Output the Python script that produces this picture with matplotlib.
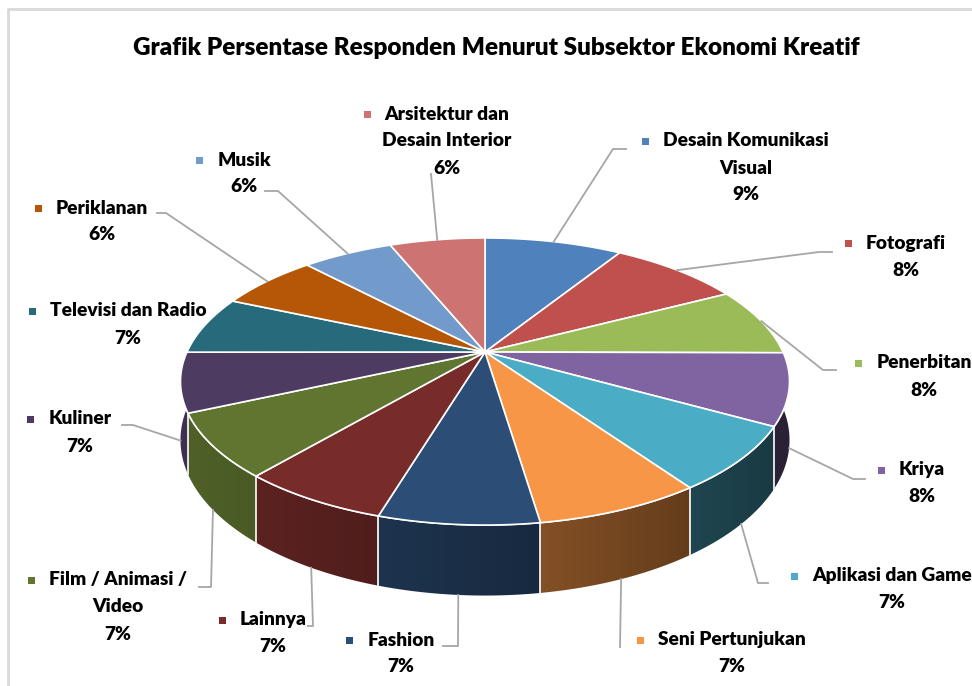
import matplotlib.pyplot as plt
import numpy as np
from matplotlib.patches import Polygon, Rectangle
from matplotlib.colors import to_rgb

# data
categories = ["Desain Komunikasi Visual", "Fotografi", "Penerbitan", "Kriya",
              "Aplikasi dan Game", "Seni Pertunjukan", "Fashion", "Lainnya",
              "Film / Animasi / Video", "Kuliner", "Televisi dan Radio",
              "Periklanan", "Musik", "Arsitektur dan Desain Interior"]
percent = [8.9, 8.45, 7.72, 8.03, 7.19, 7.31, 7.0, 6.58, 7.08, 6.67, 6.58, 6.39, 5.86, 6.17]
label_lines = [["Desain Komunikasi", "Visual"], ["Fotografi"], ["Penerbitan"], ["Kriya"],
               ["Aplikasi dan Game"], ["Seni Pertunjukan"], ["Fashion"], ["Lainnya"],
               ["Film / Animasi /", "Video"], ["Kuliner"], ["Televisi dan Radio"],
               ["Periklanan"], ["Musik"], ["Arsitektur dan", "Desain Interior"]]
colors = ["#4F81BD", "#C0504D", "#9BBB59", "#8064A2", "#4BACC6", "#F79646",
          "#2C4D75", "#772C2A", "#5F7530", "#4D3B62", "#276A7C", "#B65708",
          "#729ACA", "#CD7371"]
title = "Grafik Persentase Responden Menurut Subsektor Ekonomi Kreatif"

# layout (pixels)
label_pos = [(746, 141), (906, 243), (924, 363), (922, 470), (892, 576), (732, 640),
             (401, 640), (273, 620), (118, 580), (80, 419), (128, 311), (102, 208),
             (244, 160), (447, 114)]
leader_pts = [[(613, 149), (626, 149)], [(819, 252), (832, 252)], [(823, 370), (836, 370)],
              [(853, 479), (865, 479)], [(758, 583), (768, 583)], [(620, 647)],
              [(458, 646), (443, 646)], [(313, 626), (308, 626)], [(211, 587), (199, 587)],
              [(133, 425), (122, 425)], None, [(166, 213), (157, 213)],
              [(278, 191), (265, 191)], [(431, 174)]]

CX, CY, R = 485, 352, 298
A, C = 65.1, -0.2056
H = 56
FONT = ['Lato', 'DejaVu Sans']
WEIGHT = 'heavy'


def proj(theta, depth=0.0):
    t = np.radians(theta)
    x, y = np.sin(t), -np.cos(t)
    d = 1 + C * y
    return CX + R * x / d, (A * y + CY) / d + depth / d


fig = plt.figure(figsize=(9.72, 6.86), dpi=100)
ax = fig.add_axes([0, 0, 1, 1])
ax.set_xlim(0, 972)
ax.set_ylim(686, 0)
ax.axis('off')

# chart frame
ax.plot([8, 8, 980], [700, 9, 9], color='#d9d9d9', lw=2, zorder=0)

bounds = np.concatenate([[0], np.cumsum(percent) / np.sum(percent) * 360])

# side walls (front half only), shaded darker to the right
for i, c in enumerate(colors):
    a0, a1 = max(bounds[i], 90), min(bounds[i + 1], 270)
    if a1 <= a0:
        continue
    ts = np.linspace(a0, a1, 80)
    top = [proj(t) for t in ts]
    bot = [proj(t, H) for t in ts[::-1]]
    poly = Polygon(top + bot, closed=True, facecolor='none', edgecolor='none', zorder=1)
    ax.add_patch(poly)
    xs = np.array([p[0] for p in top + bot])
    ys = np.array([p[1] for p in top + bot])
    gx = np.linspace(xs.min(), xs.max(), 200)
    f = 0.58 - 0.25 * np.clip((gx - CX) / R, -1, 1)
    img = np.clip(np.array(to_rgb(c))[None, None, :] * f[None, :, None], 0, 1)
    im = ax.imshow(img, extent=(xs.min(), xs.max(), ys.max(), ys.min()), aspect='auto',
                   interpolation='bilinear', zorder=1)
    im.set_clip_path(poly)

ax.set_xlim(0, 972)
ax.set_ylim(686, 0)

for b in bounds:
    if 90 < b < 270:
        x0, y0 = proj(b)
        x1, y1 = proj(b, H)
        ax.plot([x0, x1], [y0, y1], color='white', lw=1.2, zorder=2)
ts = np.linspace(90, 270, 200)
rim = np.array([proj(t) for t in ts])
ax.plot(rim[:, 0], rim[:, 1], color='white', lw=1.2, zorder=2)

# top faces
for i, c in enumerate(colors):
    ts = np.linspace(bounds[i], bounds[i + 1], 60)
    pts = [(CX, CY)] + [proj(t) for t in ts]
    ax.add_patch(Polygon(pts, closed=True, facecolor=c, edgecolor='white', lw=1.2, zorder=3))

# title
ax.text(496, 48, title, ha='center', va='center', fontsize=17.5, fontweight=WEIGHT,
        family=FONT, color='black')

# labels
fig.canvas.draw()
inv = ax.transData.inverted()
for i, c in enumerate(colors):
    lx, ly = label_pos[i]
    lines = label_lines[i] + ["%.0f%%" % percent[i]]
    first = None
    for k, s in enumerate(lines):
        t = ax.text(lx, ly + 27 * k, s, ha='center', va='center', fontsize=13.8,
                    fontweight=WEIGHT, family=FONT, color='black', zorder=5)
        if k == 0:
            first = t
    bb = first.get_window_extent(renderer=fig.canvas.get_renderer())
    x_left = inv.transform((bb.x0, bb.y0))[0]
    ax.add_patch(Rectangle((x_left - 21, ly - 3.5), 7, 7, facecolor=c, edgecolor='none', zorder=5))

    # leader line
    if leader_pts[i] is None:
        continue
    mid = (bounds[i] + bounds[i + 1]) / 2
    anchor = proj(mid, H) if 90 < mid < 270 else proj(mid)
    path = [anchor] + leader_pts[i]
    ax.plot([p[0] for p in path], [p[1] for p in path], color='#a6a6a6', lw=1.3, zorder=4)

fig.savefig('out.png', dpi=100)
